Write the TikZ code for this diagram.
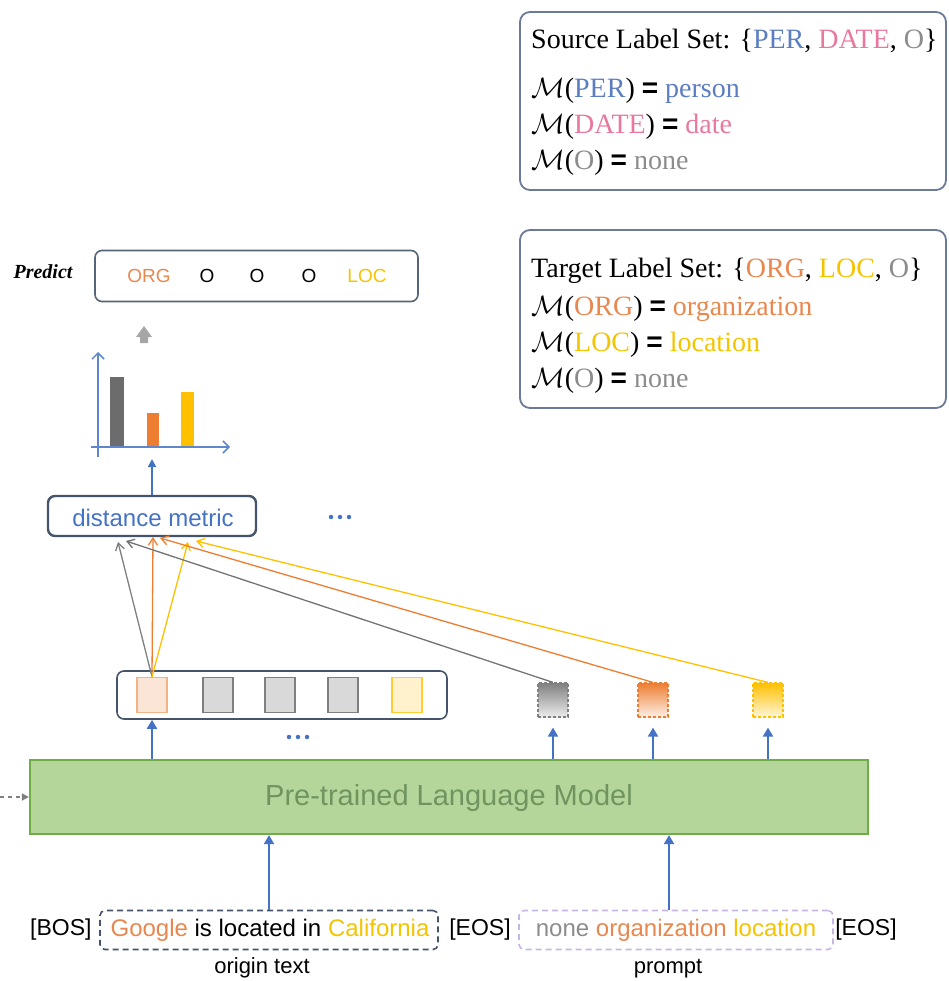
\RequirePackage{fix-cm}
\documentclass[tikz,border=0pt]{standalone}
\usepackage{fontspec}
\setmainfont{Liberation Serif}
\setsansfont{Liberation Sans}
\usetikzlibrary{arrows.meta}

\definecolor{cblue}{HTML}{4472C4}
\definecolor{corange}{HTML}{ED7D31}
\definecolor{cyellow}{HTML}{FFC000}
\definecolor{cgray}{HTML}{7F7F7F}
\definecolor{cnavy}{HTML}{44546A}
\definecolor{cframe}{HTML}{6A7A98}
\definecolor{perblue}{HTML}{5B7DC2}
\definecolor{datepink}{HTML}{E8789F}
\definecolor{ogray}{HTML}{8C8C8C}
\definecolor{orgorange}{HTML}{E8874E}
\definecolor{locyellow}{HTML}{F5C400}
\definecolor{lgreen}{HTML}{B4D69A}
\definecolor{dgreen}{HTML}{70AD47}
\definecolor{tgreen}{HTML}{6F9460}
\definecolor{lavender}{HTML}{C7B5E3}

\newcommand{\eqsign}{\textbf{\sffamily =}}

\tikzset{
  lbl/.style={font=\fontsize{28}{30}\selectfont, inner sep=0pt, anchor=base west},
  setbox/.style={draw=cframe, line width=1.8pt, rounded corners=10pt, inner sep=0pt},
  navybox/.style={draw=cnavy, line width=2pt, rounded corners=7pt, inner sep=0pt},
  sans/.style={font=\sffamily\fontsize{#1}{#1}\selectfont, inner sep=0pt},
  blueup/.style={draw=cblue, line width=2pt, -{Triangle[length=9pt,width=10pt]}},
  barb/.style={line width=1.3pt, -{Straight Barb[length=7pt,width=9pt]}},
  emb/.style={line width=1.4pt, minimum width=30pt, minimum height=35pt, inner sep=0pt},
  promptemb/.style={line width=1.2pt, dashed, dash pattern=on 3pt off 2pt, minimum width=30pt, minimum height=34pt, inner sep=0pt},
  seqbox/.style={line width=1.6pt, dash pattern=on 6pt off 4pt, rounded corners=5pt, minimum height=39pt, inner sep=0pt},
  dotmark/.style={circle, fill=cblue, inner sep=0pt, minimum size=4.5pt},
}

\begin{document}
\begin{tikzpicture}[x=1pt, y=-1pt]
\useasboundingbox (0,0) rectangle (948,981);

% ---------- label sets ----------
\node[setbox, minimum width=426pt, minimum height=178pt] (src) at (733,101) {};
\node[lbl] (s0) at (531,49) {Source Label Set: \{\textcolor{perblue}{PER}, \textcolor{datepink}{DATE}, \textcolor{ogray}{O}\}};
\node[lbl] (s1) at (531,98) {$\mathcal{M}$(\textcolor{perblue}{PER}) \eqsign{} \textcolor{perblue}{person}};
\node[lbl] (s2) at (531,134) {$\mathcal{M}$(\textcolor{datepink}{DATE}) \eqsign{} \textcolor{datepink}{date}};
\node[lbl] (s3) at (531,170) {$\mathcal{M}$(\textcolor{ogray}{O}) \eqsign{} \textcolor{ogray}{none}};

\node[setbox, minimum width=426pt, minimum height=178pt] (tgt) at (733,319) {};
\node[lbl] (t0) at (531,277) {Target Label Set: \{\textcolor{orgorange}{ORG}, \textcolor{locyellow}{LOC}, \textcolor{ogray}{O}\}};
\node[lbl] (t1) at (531,315) {$\mathcal{M}$(\textcolor{orgorange}{ORG}) \eqsign{} \textcolor{orgorange}{organization}};
\node[lbl] (t2) at (531,351) {$\mathcal{M}$(\textcolor{locyellow}{LOC}) \eqsign{} \textcolor{locyellow}{location}};
\node[lbl] (t3) at (531,387) {$\mathcal{M}$(\textcolor{ogray}{O}) \eqsign{} \textcolor{ogray}{none}};

% ---------- prediction ----------
\node[font=\itshape\bfseries\fontsize{20}{22}\selectfont, inner sep=0pt] (pred) at (43,272) {Predict};
\node[navybox, draw=cnavy!90, line width=1.6pt, minimum width=323pt, minimum height=51pt] (pbox) at (256.5,276) {};
\node[sans=19, text=orgorange] (p1) at (149,276) {ORG};
\node[sans=19] (p2) at (207,276) {O};
\node[sans=19] (p3) at (257,276) {O};
\node[sans=19] (p4) at (309,276) {O};
\node[sans=19, text=locyellow] (p5) at (367,276) {LOC};

% thick grey up arrow
\fill[gray!70] (136,337) -- (144,326) -- (152,337) -- (148,337) -- (148,343) -- (140,343) -- (140,337) -- cycle;

% ---------- score chart ----------
\fill[gray!85!black] (110,377) rectangle (124,447);
\fill[corange] (147,413) rectangle (159,447);
\fill[cyellow] (181,392) rectangle (194,447);
\draw[cblue!85, line width=1.5pt, -{Straight Barb[length=6pt,width=12pt]}] (98,457) -- (98,352);
\draw[cblue!85, line width=1.5pt, -{Straight Barb[length=6pt,width=12pt]}] (91,447) -- (230,447);
\coordinate (chart) at (152,459);

% ---------- distance metric ----------
\node[navybox, line width=2.4pt, minimum width=208pt, minimum height=40pt] (dm) at (152,516) {};
\node[sans=24, text=cblue] (dmt) at (153,518) {distance metric};
\foreach \i/\xx in {1/331,2/340,3/349} \node[dotmark] (da\i) at (\xx,517) {};
\draw[blueup, line width=1.8pt, -{Triangle[length=8pt,width=8pt]}] (dm.north) -- (chart);

% ---------- token embeddings ----------
\node[navybox, line width=1.6pt, minimum width=330pt, minimum height=48pt] (tok) at (282,695) {};
\node[emb, draw=corange!60, fill=corange!20] (e1) at (152,695) {};
\node[emb, draw=cgray, fill=gray!30] (e2) at (218,695) {};
\node[emb, draw=cgray, fill=gray!30] (e3) at (280,695) {};
\node[emb, draw=cgray, fill=gray!30] (e4) at (343,695) {};
\node[emb, draw=cyellow!80, fill=cyellow!20] (e5) at (407,695) {};
\foreach \i/\xx in {1/289,2/298,3/307} \node[dotmark] (db\i) at (\xx,737) {};

% ---------- label prompt embeddings ----------
\node[promptemb, draw=gray, top color=gray!100!black, bottom color=gray!15] (g) at (553,700) {};
\node[promptemb, draw=corange, top color=corange, bottom color=corange!12] (o) at (653,700) {};
\node[promptemb, draw=cyellow, top color=cyellow, bottom color=cyellow!15] (y) at (768,700) {};

% arrow end points on the distance metric box
\coordinate (dg1) at (118,542);
\coordinate (do1) at (153,537);
\coordinate (dy1) at (188,542);
\coordinate (dg2) at (126,541);
\coordinate (do2) at (160,538);
\coordinate (dy2) at (196,541);

\draw[barb, draw=gray] (e1.north) -- (dg1);
\draw[barb, draw=corange] (e1.north) -- (do1);
\draw[barb, draw=cyellow] (e1.north) -- (dy1);
\draw[barb, draw=gray!90!black] (g.north) -- (dg2);
\draw[barb, draw=corange] (o.north) -- (do2);
\draw[barb, draw=cyellow] (y.north) -- (dy2);

% ---------- language model ----------
\node[draw=dgreen, fill=lgreen, line width=2.2pt, minimum width=838pt, minimum height=74pt, inner sep=0pt] (plm) at (449,797) {};
\node[sans=29, text=tgreen] (plmt) at (449,798) {Pre-trained Language Model};
\coordinate (lin) at (0,797);
\draw[gray, line width=1.5pt, dash pattern=on 4pt off 4pt, -{Triangle[length=7pt,width=7pt]}] (lin) -- (plm.west);

\draw[blueup] (plm.north -| e1) -- (tok.south -| e1);
\draw[blueup] (plm.north -| g) -- ([yshift=-10pt]g.south);
\draw[blueup] (plm.north -| o) -- ([yshift=-10pt]o.south);
\draw[blueup] (plm.north -| y) -- ([yshift=-10pt]y.south);

% ---------- input sequence ----------
\node[sans=23, anchor=west] (bos) at (30,930) {[BOS]};
\node[seqbox, draw=cnavy, minimum width=338pt] (orig) at (269,930) {};
\node[sans=24] (origt) at (270,930) {\textcolor{orgorange}{Google} is located in \textcolor{locyellow}{California}};
\node[sans=23] (eos1) at (480,930) {[EOS]};
\node[seqbox, draw=lavender, minimum width=314pt] (prm) at (676,930) {};
\node[sans=24] (prmt) at (676,930) {\textcolor{ogray}{none} \textcolor{orgorange}{organization} \textcolor{locyellow}{location}};
\node[sans=23] (eos2) at (866,930) {[EOS]};
\node[sans=22] (origl) at (262,968) {origin text};
\node[sans=22] (prml) at (668,969) {prompt};

\draw[blueup] (orig.north -| 269,0) -- (plm.south -| 269,0);
\draw[blueup] (prm.north -| 669,0) -- (plm.south -| 669,0);

\end{tikzpicture}
\end{document}
